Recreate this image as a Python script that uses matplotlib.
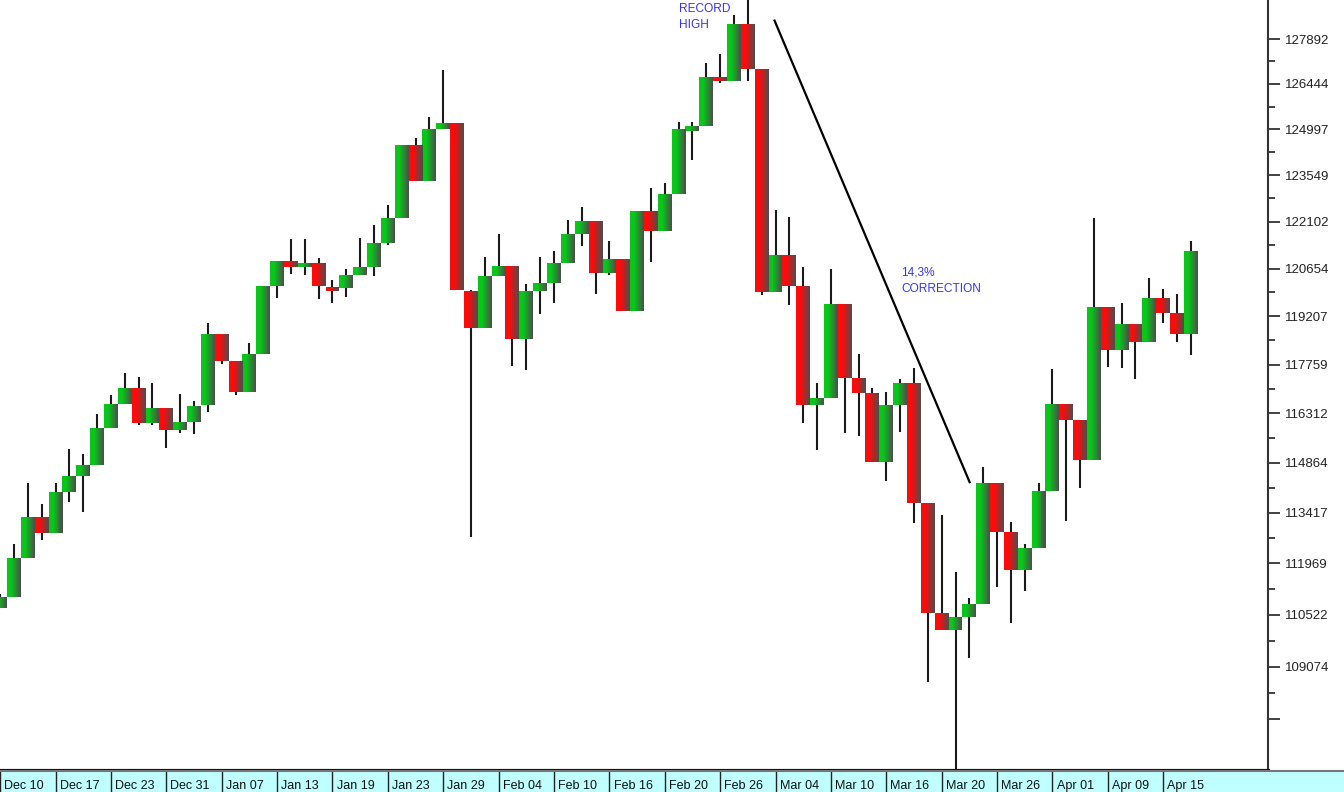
import numpy as np
import matplotlib
matplotlib.use('Agg')
import matplotlib.pyplot as plt
from matplotlib.ticker import FixedLocator, FixedFormatter, NullFormatter

plt.rcParams['font.family'] = ['Liberation Sans', 'DejaVu Sans']

# Daily candles
opens = [110699, 111024, 112111, 113284, 112843, 114006, 114479, 114806, 115872, 116579,
         117055, 116036, 116461, 115813, 116057, 116558, 118680, 117868, 116954, 118069,
         120113, 120907, 120723, 120827, 120094, 120073, 120478, 120723, 121443, 122214,
         124485, 123354, 125003, 125192, 119991, 118870, 120439, 120754, 118520, 119991,
         120217, 120827, 121720, 122139, 120521, 120950, 119382, 122450, 121801, 122961,
         124949, 125086, 126659, 126531, 128366, 126915, 119933, 121063, 120113, 116549,
         116767, 119586, 117356, 116915, 114879, 116549, 117212, 113689, 110567, 110088,
         110455, 110819, 114275, 112863, 111779, 112399, 114052, 116579, 116116, 114943,
         119504, 118198, 118972, 118448, 119759, 119303, 118671]
highs = [111101, 112509, 114266, 113658, 114266, 115256, 115110, 116284, 116856, 117501,
         117400, 117204, 116461, 116877, 116686, 119010, 118680, 117868, 118400, 120113,
         120907, 121566, 121566, 120980, 120296, 120643, 121597, 121997, 122606, 124485,
         124717, 125401, 126893, 125192, 120012, 121029, 121720, 120754, 120196, 121029,
         121214, 122161, 122556, 122139, 121492, 120950, 122450, 123148, 123304, 125224,
         125243, 127110, 127398, 128670, 129400, 126915, 122472, 122239, 120714, 117212,
         120640, 119586, 118066, 117064, 116945, 117314, 117649, 113689, 113350, 111722,
         110988, 114740, 114275, 113158, 112512, 114266, 117620, 116579, 116116, 122214,
         119504, 119607, 118972, 120369, 120033, 119881, 121492]
lows = [110699, 111024, 112111, 112634, 112843, 113733, 113445, 114806, 115872, 116579,
        115961, 115961, 115285, 115742, 115704, 116361, 117778, 116856, 116954, 118069,
        119759, 120500, 120469, 119728, 119607, 119808, 120478, 120418, 121381, 122214,
        123354, 123354, 125003, 120012, 112729, 118870, 120439, 117728, 117599, 119273,
        119625, 120827, 121338, 119881, 120469, 119382, 119382, 120876, 121801, 122961,
        124034, 125086, 126467, 126531, 126540, 119841, 119933, 119540, 116024, 115241,
        116767, 115719, 115631, 114879, 114333, 115748, 113134, 108647, 110088, 105500,
        109317, 110819, 111307, 110279, 111193, 112399, 114052, 113186, 114121, 114943,
        117697, 117650, 117323, 118448, 119019, 118448, 118048]
closes = [111024, 112111, 113284, 112843, 114006, 114479, 114806, 115872, 116579, 117055,
          116036, 116461, 115813, 116057, 116529, 118680, 117868, 116954, 118069, 120113,
          120907, 120723, 120827, 120113, 119991, 120478, 120705, 121443, 122214, 124485,
          123354, 125003, 125192, 120012, 118870, 120439, 120754, 118520, 119991, 120217,
          120827, 121720, 122139, 120521, 120950, 119382, 122450, 121801, 122961, 125003,
          125086, 126659, 126531, 128366, 126915, 119933, 121063, 120113, 116549, 116767,
          119586, 117356, 116915, 114879, 116549, 117212, 113689, 110567, 110088, 110455,
          110819, 114275, 112863, 111779, 112399, 114052, 116579, 116116, 114943, 119504,
          118198, 118972, 118448, 119759, 119321, 118671, 121214]

date_labels = ['Dec 10', 'Dec 17', 'Dec 23', 'Dec 31', 'Jan 07', 'Jan 13', 'Jan 19', 'Jan 23',
               'Jan 29', 'Feb 04', 'Feb 10', 'Feb 16', 'Feb 20', 'Feb 26', 'Mar 04', 'Mar 10',
               'Mar 16', 'Mar 20', 'Mar 26', 'Apr 01', 'Apr 09', 'Apr 15']

tick_values = [107627, 109074, 110522, 111969, 113417, 114864, 116312, 117759, 119207,
               120654, 122102, 123549, 124997, 126444, 127892]
tick_labels = [''] + [str(v) for v in tick_values[1:]]
minor_values = [108350, 109798, 111246, 112693, 114141, 115588, 117036, 118483, 119931,
                121378, 122826, 124273, 125721, 127168]

# trend line from the record high down to the low
trend_x = [55.93, 70.02]
trend_y = [128490, 114300]

opens = np.array(opens)
closes = np.array(closes)
highs = np.array(highs)
lows = np.array(lows)
xs = np.arange(len(opens))
up = closes >= opens
lo = np.minimum(opens, closes)
hi = np.maximum(opens, closes)

slot = 13.845  # pixels per candle
x0 = -0.2 / slot

fig = plt.figure(figsize=(13.44, 7.92), dpi=100)
ax = fig.add_axes([0, 21 / 792, 1268 / 1344, 771 / 792])
ax.set_yscale('log')
ax.set_xlim(x0, x0 + 1268 / slot)
ax.set_ylim(106228, 129163)

# wicks
ax.vlines(xs, lows, highs, color='#1a1a1a', lw=1.5, zorder=2)

# bodies with a horizontal gradient (colour -> dark grey)
green = np.array([0.03, 0.78, 0.10])
red = np.array([1.0, 0.04, 0.04])
dark = np.array([0.30, 0.30, 0.30])
n = 14
for j in range(n):
    s = (j + 0.5) / n
    t = np.clip((s - 0.3) / 0.7, 0, 1)
    gc = green * (1 - t) + dark * t
    rc = red * (1 - t) + dark * t
    cols = [gc if u else rc for u in up]
    ax.bar(xs - 0.5 + s, hi - lo, bottom=lo, width=1.1 / n, color=cols,
           linewidth=0, zorder=3)

ax.plot(trend_x, trend_y, color='black', lw=1.6, zorder=4)

ax.text(49.03, 129065, 'RECORD\nHIGH', color='#3333ff', fontsize=8.6,
        va='top', ha='left', linespacing=1.45, zorder=5)
ax.text(65.06, 120714, '14,3%\nCORRECTION', color='#3333ff', fontsize=8.6,
        va='top', ha='left', linespacing=1.45, zorder=5)

# right price axis
ax.yaxis.tick_right()
ax.yaxis.set_major_locator(FixedLocator(tick_values))
ax.yaxis.set_major_formatter(FixedFormatter(tick_labels))
ax.yaxis.set_minor_locator(FixedLocator(minor_values))
ax.yaxis.set_minor_formatter(NullFormatter())
ax.tick_params(axis='y', which='major', length=8.6, width=1.3, pad=3.5,
               labelsize=9.5, color='#333333', labelcolor='#222222')
ax.tick_params(axis='y', which='minor', length=5, width=1.3, color='#333333')
ax.set_xticks([])
ax.spines['left'].set_visible(False)
ax.spines['top'].set_visible(False)
ax.spines['right'].set_color('#333333')
ax.spines['right'].set_linewidth(1.5)
ax.spines['bottom'].set_color('#111111')
ax.spines['bottom'].set_linewidth(3)

# date strip
ax2 = fig.add_axes([0, 0, 1, 21 / 792])
ax2.set_facecolor('#c0ffff')
ax2.set_xlim(x0, x0 + 1344 / slot)
ax2.set_ylim(0, 1)
for j, lab in enumerate(date_labels):
    pos = 4 * j
    ax2.axvline(pos, color='#222222', lw=1)
    ax2.text(pos + 0.3, 0.12, lab, fontsize=9, va='baseline', ha='left', color='#111111')
ax2.set_xticks([])
ax2.set_yticks([])
for side in ['left', 'right', 'bottom']:
    ax2.spines[side].set_visible(False)
ax2.spines['top'].set_color('#777777')
ax2.spines['top'].set_linewidth(1.5)

plt.savefig('out.png', dpi=100)
plt.close()
